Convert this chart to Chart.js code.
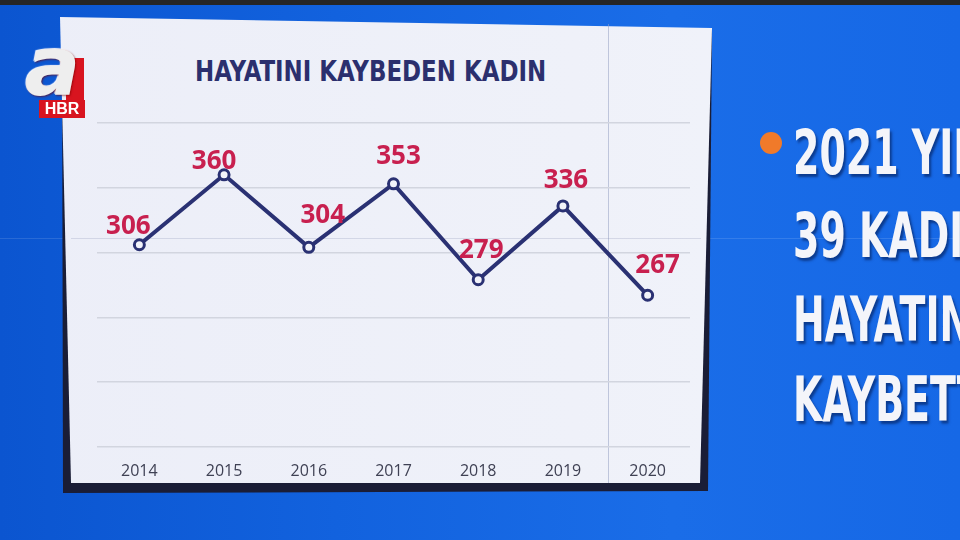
<!DOCTYPE html>
<html>
<head>
<meta charset="utf-8">
<title>Hayatını kaybeden kadın</title>
<script src="https://cdn.jsdelivr.net/npm/chart.js@4.4.1/dist/chart.umd.min.js"></script>
<style>
  html, body { margin: 0; padding: 0; }
  body {
    width: 960px; height: 540px; overflow: hidden; position: relative;
    background: linear-gradient(90deg, #0b55d0 0%, #1262de 35%, #1a6de8 70%, #1668e6 100%);
    font-family: "Open Sans", sans-serif;
  }
  #topbar { position: absolute; left: 0; top: 0; width: 960px; height: 5px; background: #262626; }
  #seamH { position: absolute; left: 0; top: 238px; width: 960px; height: 1px; background: rgba(255,255,255,0.12); }
  #frame {
    position: absolute; left: 0; top: 0; width: 960px; height: 540px; background: #1a1d36;
    clip-path: polygon(62px 20px, 712px 30px, 708px 491px, 63px 493px);
  }
  #panel {
    position: absolute; left: 0; top: 0; width: 960px; height: 540px;
    background: linear-gradient(90deg, #eceef8 0%, #eff1f9 60%, #f2f4fb 100%);
    clip-path: polygon(60px 17px, 712px 28px, 700px 483px, 71px 483px);
  }
  #seamV { position: absolute; left: 608px; top: 24px; width: 1px; height: 459px; background: rgba(150,160,195,0.55); }
  #seamP { position: absolute; left: 71px; top: 238px; width: 630px; height: 1px; background: rgba(130,140,175,0.25); }
  #title {
    position: absolute; left: 195px; top: 55px; white-space: nowrap;
    font-family: "Liberation Sans Narrow", "DejaVu Sans Condensed", sans-serif;
    font-weight: bold; font-size: 28px; color: #2b2f6e;
    transform: scaleX(0.91); transform-origin: left top;
  }
  #chart { position: absolute; left: 0; top: 0; }
  .big {
    position: absolute; left: 793px; white-space: nowrap;
    font-family: "DejaVu Sans Condensed", sans-serif;
    font-weight: bold; font-size: 62px; line-height: 62px; color: #f4f5fa;
    transform: scaleX(0.68); transform-origin: left top;
    text-shadow: 3px 3px 3px rgba(0,20,70,0.55);
  }
  #bullet { position: absolute; left: 760px; top: 132px; width: 22px; height: 22px; border-radius: 50%; background: #f07a2a; }
  #logoRed { position: absolute; left: 66px; top: 58px; width: 18px; height: 43px; background: #d8141f; }
  #logoA {
    position: absolute; left: 25px; top: 24px; font-family: "DejaVu Sans", sans-serif;
    font-weight: bold; font-style: italic; font-size: 82px; line-height: 86px; color: #eeeeee;
    text-shadow: 1px 1px 2px rgba(120,0,0,0.6), -1px -1px 1px #ffffff;
  }
  #logoHBR {
    position: absolute; left: 39px; top: 100px; width: 46px; height: 18px; background: #d8141f;
    color: #ffffff; font-family: "Liberation Sans", sans-serif; font-weight: bold; font-size: 16px;
    line-height: 18px; text-align: center;
  }
</style>
</head>
<body>
<div id="topbar"></div>
<div id="seamH"></div>
<div id="frame"></div>
<div id="panel"></div>
<div id="seamV"></div>
<div id="seamP"></div>
<div id="title">HAYATINI KAYBEDEN KADIN</div>
<canvas id="chart" width="960" height="540"></canvas>

<div id="bullet"></div>
<div class="big" style="top:122px">2021 YILINDA</div>
<div class="big" style="top:205px">39 KADIN</div>
<div class="big" style="top:289px">HAYATINI</div>
<div class="big" style="top:369px">KAYBETTİ</div>

<div id="logoRed"></div>
<div id="logoA">a</div>
<div id="logoHBR">HBR</div>

<script>
// values
const years = ['2014', '2015', '2016', '2017', '2018', '2019', '2020'];
const deaths = [306, 360, 304, 353, 279, 336, 267];
const yTicks = [150, 200, 250, 300, 350, 400];

const chartCanvas = document.getElementById('chart');

// red numbers over each point, nudged like in the broadcast graphic
const valueLabels = {
  id: 'valueLabels',
  afterDatasetsDraw(chart, args, opts) {
    const ctx = chart.ctx;
    const meta = chart.getDatasetMeta(0);
    ctx.save();
    ctx.font = opts.font;
    ctx.fillStyle = opts.color;
    ctx.textAlign = 'center';
    ctx.textBaseline = 'middle';
    meta.data.forEach((pt, i) => {
      const off = opts.offsets[i] || [0, -20];
      ctx.fillText(String(chart.data.datasets[0].data[i]), pt.x + off[0], pt.y + off[1]);
    });
    ctx.restore();
  }
};

const deathsChart = new Chart(chartCanvas, {
  type: 'line',
  data: {
    labels: years,
    datasets: [{
      label: 'Hayatını kaybeden kadın',
      data: deaths,
      borderColor: '#2a3173',
      borderWidth: 4,
      pointRadius: 5,
      pointBorderWidth: 3,
      pointBackgroundColor: '#f2f3fa',
      pointBorderColor: '#2a3173',
      tension: 0,
      fill: false
    }]
  },
  options: {
    responsive: false,
    animation: false,
    layout: { padding: { left: 97, right: 270, top: 123, bottom: 44 } },
    plugins: {
      legend: { display: false },
      tooltip: { enabled: false },
      title: { display: false },
      valueLabels: {
        font: 'bold 26px "Open Sans", sans-serif',
        color: '#c8204f',
        offsets: [[-11, -18], [-10, -13], [14, -32], [5, -27], [3, -29], [3, -25], [10, -30]]
      }
    },
    scales: {
      x: {
        offset: true,
        grid: { display: false, drawTicks: false },
        border: { display: false },
        ticks: { color: '#3f4154', font: { family: 'Open Sans', size: 16 }, padding: 15 }
      },
      y: {
        min: yTicks[0],
        max: yTicks[yTicks.length - 1],
        afterBuildTicks: (axis) => { axis.ticks = yTicks.map(v => ({ value: v })); },
        grid: { color: '#d2d5df', lineWidth: 1.5, drawTicks: false },
        border: { display: false },
        ticks: { display: false }
      }
    }
  },
  plugins: [valueLabels]
});
</script>
</body>
</html>
